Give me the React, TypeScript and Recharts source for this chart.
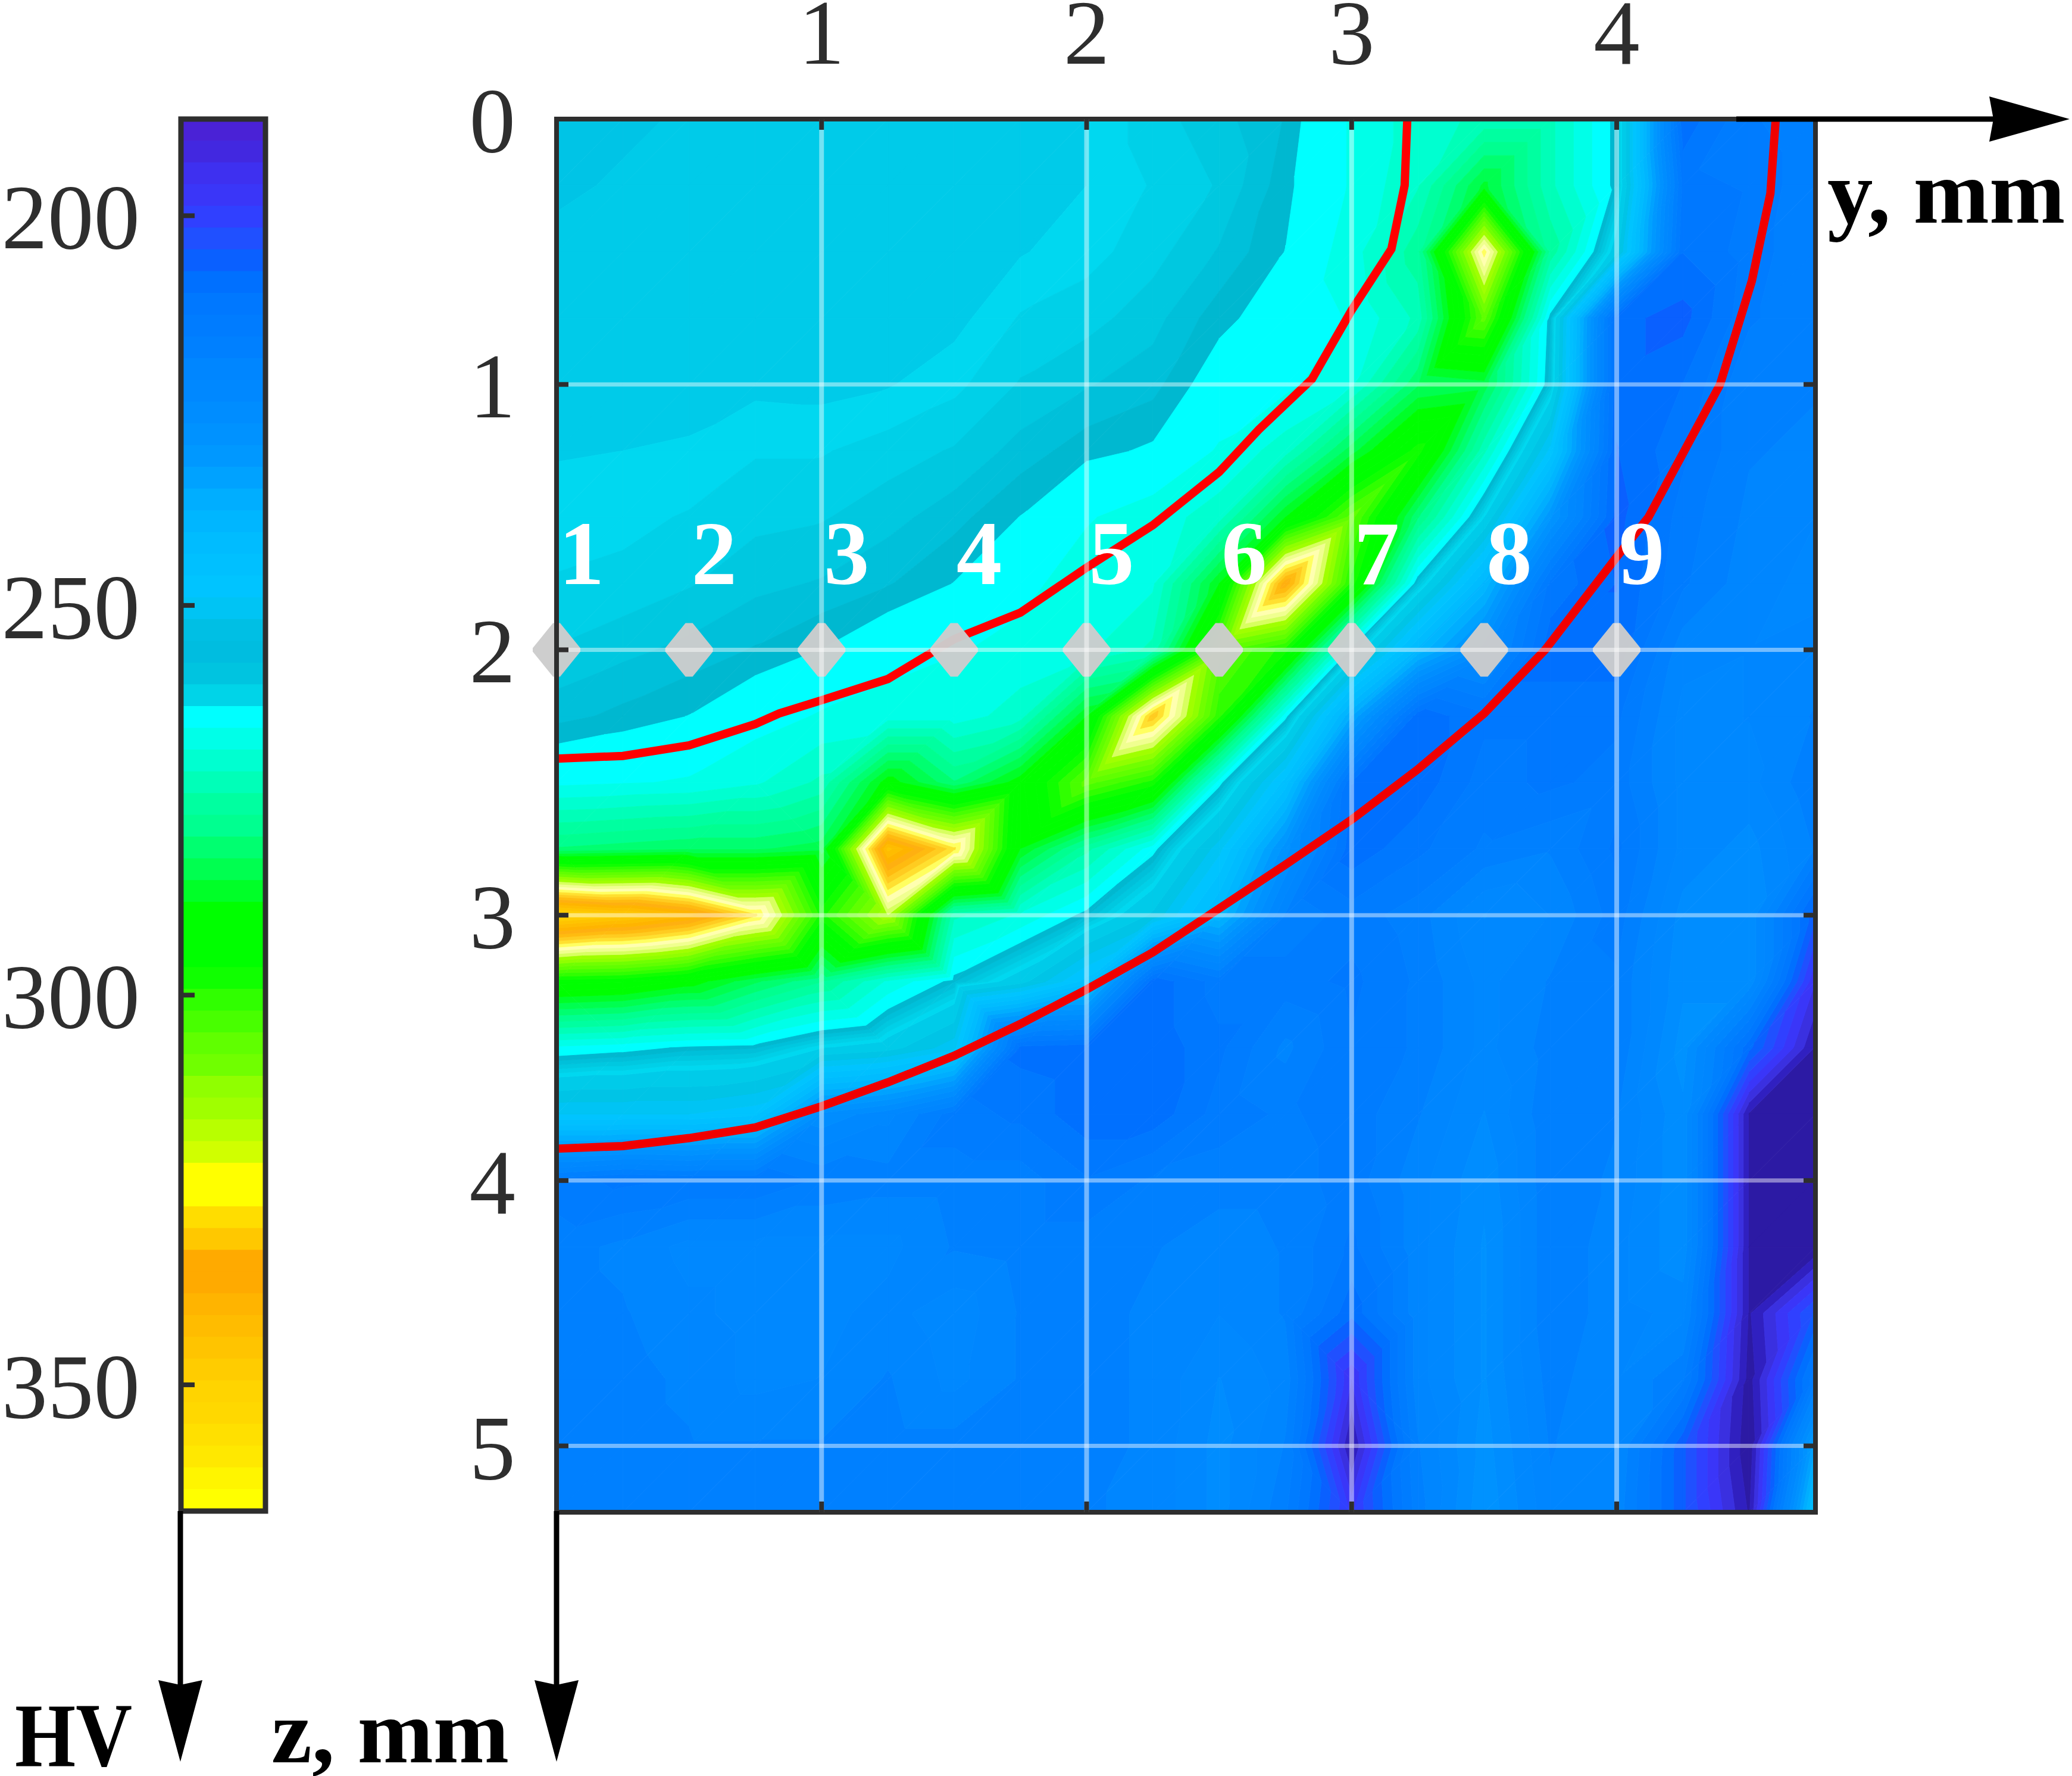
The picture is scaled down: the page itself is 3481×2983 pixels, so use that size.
import React from "react";
import { ScatterChart, Scatter, XAxis, YAxis, ReferenceLine, ReferenceArea } from "recharts";

// ---------- data ----------
const yNodes = [0, 0.25, 0.5, 0.75, 1, 1.25, 1.5, 1.75, 2, 2.25, 2.5, 2.75, 3, 3.25, 3.5, 3.75, 4, 4.25, 4.5, 4.75];
const zNodes = [0, 0.25, 0.5, 0.75, 1, 1.25, 1.5, 1.75, 2, 2.25, 2.5, 2.75, 3, 3.25, 3.5, 3.75, 4, 4.25, 4.5, 4.75, 5, 5.25];
const hvRows: number[][] = [
  [252, 254, 255, 255.5, 256, 256, 256.5, 257, 257.9, 259.5, 260.5, 262, 266, 270, 272, 272, 262, 208, 215, 218],
  [254, 255, 255.5, 256, 256, 256.5, 256.5, 257, 257.9, 259, 260, 262.5, 266, 271, 286, 272, 262, 212, 213, 218],
  [255.5, 256, 256, 256, 256, 256.5, 257, 257.8, 258.5, 259.5, 261, 263, 267, 276, 326, 276, 256, 210, 214, 218],
  [256, 256, 256.5, 256.5, 256.5, 257, 257.5, 259, 259.5, 260.5, 262.5, 264, 266, 272, 306, 262, 208, 206, 215, 218],
  [257, 257, 257.2, 257.6, 257.5, 257.8, 258.6, 260, 260.8, 261.5, 264, 265, 268, 282, 284, 261, 208, 210, 218, 218],
  [257.8, 257.9, 258.1, 258.8, 258.8, 259.4, 260, 261.3, 262.5, 263.2, 266, 270, 284, 298, 272, 248, 207, 212, 218, 219],
  [258.4, 258.6, 259, 259.6, 259.8, 260.5, 261.5, 263, 265.5, 267, 270, 288, 306, 280, 258, 230, 206, 214, 219, 221],
  [259, 259.2, 259.8, 260.6, 261, 261.8, 263, 265, 267, 268, 288, 338, 298, 261, 240, 212, 207, 215, 220, 222],
  [260, 260.6, 261.2, 262, 263, 264.5, 265.5, 266.5, 268, 272, 306, 298, 262, 240, 225, 208, 208, 220, 221, 220],
  [261.5, 262.2, 263, 264.5, 266, 267, 267, 270, 288, 332, 300, 264, 235, 208, 212, 212, 212, 222, 221, 218],
  [265, 265.5, 266, 268, 272, 290, 280, 290, 306, 298, 264, 245, 210, 208, 214, 212, 214, 222, 222, 216],
  [280, 281, 282, 282, 284, 345, 328, 288, 275, 264, 250, 228, 208, 212, 216, 218, 212, 222, 225, 218],
  [352, 348, 342, 328, 298, 316, 272, 268, 262, 254, 240, 218, 214, 217, 224, 221, 214, 225, 226, 205],
  [295, 294, 290, 283, 277, 268, 262, 256, 245, 208, 214, 214, 212, 216, 222, 218, 216, 226, 226, 196],
  [265, 264, 262.5, 262, 258, 256, 250, 209, 208, 208, 212, 219, 213, 216, 222, 217, 216, 228, 208, 190],
  [249, 249, 249, 247, 226, 222, 214, 212, 208, 208, 214, 216, 214, 218, 224, 216, 218, 226, 190, 189],
  [214, 212, 213, 213, 216, 217, 217, 217, 213, 216, 217, 217, 214, 220, 226, 216, 219, 226, 190, 188],
  [217, 219, 222, 222, 222, 222, 218, 217, 217, 218, 220, 218, 212, 220, 227, 216, 220, 226, 190, 188],
  [217, 218, 220.5, 222, 222, 220, 223, 218, 217, 219, 221, 218, 208, 220, 227, 216, 220, 222, 190, 205],
  [217, 217, 219, 222, 221, 218, 222, 218, 217, 219, 224, 220, 196, 220, 227, 217, 221, 216, 189, 215],
  [217, 217, 218, 218, 218, 217, 217, 217, 217, 219, 225, 218, 190, 218, 228, 218, 221, 205, 188, 235],
  [217, 217, 218, 218, 218, 218, 218, 218, 218, 219, 225, 216, 198, 217, 229, 219, 220, 205, 190, 246],
];
const innerCurveY = [0, 0.25, 0.5, 0.75, 0.84, 1, 1.25, 1.5, 1.75, 2, 2.25, 2.5, 2.65, 2.85, 3, 3.15, 3.2, 3.21];
const innerCurveZ = [2.41, 2.4, 2.36, 2.28, 2.24, 2.19, 2.11, 1.96, 1.86, 1.69, 1.53, 1.33, 1.17, 0.98, 0.72, 0.49, 0.25, 0];
const outerCurveY = [0, 0.25, 0.5, 0.75, 1, 1.25, 1.5, 1.75, 2, 2.25, 2.75, 3, 3.25, 3.5, 3.73, 4, 4.12, 4.25, 4.39, 4.51, 4.58, 4.6];
const outerCurveZ = [3.88, 3.87, 3.84, 3.8, 3.72, 3.63, 3.53, 3.41, 3.28, 3.14, 2.81, 2.64, 2.45, 2.24, 2, 1.65, 1.5, 1.26, 1, 0.61, 0.28, 0];
const probeY = [0, 0.5, 1, 1.5, 2, 2.5, 3, 3.5, 4];
const probeLabels = ["1", "2", "3", "4", "5", "6", "7", "8", "9"];
const PROBE_Z = 2;
const yTicks = [1, 2, 3, 4];
const zTicks = [0, 1, 2, 3, 4, 5];
const hvTicks = [200, 250, 300, 350];
const HV_MIN = 187.6;
const HV_MAX = 366.2;
const barColors = [
  "#4a22d6", "#4228e0", "#3e30f0", "#3a36f8", "#3040ff", "#2050ff", "#0a60ff", "#0070ff",
  "#0078ff", "#007cff", "#0080ff", "#0086ff", "#0088ff", "#008dff", "#0092ff", "#0098ff",
  "#00a2ff", "#00aeff", "#00b6ff", "#00bcff", "#00c0ff", "#00c4ff", "#00c4f4", "#00bfe4",
  "#00bde0", "#00c4e0", "#00d4e8", "#00ffff", "#00ffe8", "#00ffd0", "#00ffb8", "#00ffa0",
  "#00ff90", "#00ff70", "#00ff50", "#00ff28", "#00ff00", "#00ff00", "#00ff00", "#10ff00",
  "#30ff00", "#48ff00", "#60ff00", "#70ff00", "#90ff00", "#a0ff00", "#b8ff00", "#d0ff00",
  "#ffff00", "#ffff00", "#ffdd00", "#ffc800", "#ffaa00", "#ffaa00", "#ffb400", "#ffbc00",
  "#ffc400", "#ffcc00", "#ffd400", "#ffd800", "#ffe000", "#ffe800", "#fff500", "#ffff00",
];
// blocks of cells [first col, last col, first row, last row] round isolated peaks,
// whose diagonals alternate so that a peak gets a four-cornered diamond
const peakBlocks = [[13, 14, 1, 2], [0, 6, 10, 13], [11, 12, 18, 21]];

// ---------- styles / geometry ----------
const W = 3481, H = 2983;
const PLOT_L = 935, PLOT_T = 200, PLOT_W = 2115, PLOT_H = 2340;
const BAR_L = 304, BAR_W = 142, BAR_B = 2538;
const DARK = "#2e2e2e";
const SERIF = "'Liberation Serif', serif";
const STEP = (HV_MAX - HV_MIN) / barColors.length;

type Band = { lo: number; hi: number; color: string };
const tealBands: Band[] = [
  { lo: 251.8, hi: 254.6, color: "#00c4e6" },
  { lo: 254.6, hi: 257.9, color: "#00cbe9" },
  { lo: 257.9, hi: 258.9, color: "#00d8f0" },
  { lo: 258.9, hi: 259.9, color: "#00d0e8" },
  { lo: 259.9, hi: 260.9, color: "#00c8e0" },
  { lo: 260.9, hi: 261.9, color: "#00c0da" },
  { lo: 261.9, hi: 262.95, color: "#00b8d0" },
];
const mapOverrides: Record<number, string> = {
  0: "#2c1aa4", 1: "#3020c0", 2: "#3a30e0",
  46: "#d8ff60", 47: "#f0ff90", 48: "#ffffb0", 49: "#ffff60", 50: "#ffe030",
  51: "#ffcc20", 52: "#ffbb10", 53: "#ffb010",
};
const mapBands: Band[] = [];
barColors.forEach((c, k) => {
  const lo = HV_MIN + k * STEP, hi = lo + STEP;
  const color = mapOverrides[k] || c;
  if (hi <= 251.8 || lo >= 262.9) mapBands.push({ lo: k === 0 ? 0 : lo, hi: k === barColors.length - 1 ? 999 : hi, color });
  else if (lo < 251.8) mapBands.push({ lo, hi: 251.8, color });
});
mapBands.push(...tealBands);

type P = { x: number; y: number; v: number };
function clip(poly: P[], level: number, keepAbove: boolean): P[] {
  const out: P[] = [];
  for (let i = 0; i < poly.length; i++) {
    const a = poly[i], b = poly[(i + 1) % poly.length];
    const ia = keepAbove ? a.v >= level : a.v <= level;
    const ib = keepAbove ? b.v >= level : b.v <= level;
    if (ia) out.push(a);
    if (ia !== ib) {
      const t = (level - a.v) / (b.v - a.v);
      out.push({ x: a.x + t * (b.x - a.x), y: a.y + t * (b.y - a.y), v: level });
    }
  }
  return out;
}
function triangleBands(tri: P[], key: string) {
  const vs = tri.map((p) => p.v);
  const mn = Math.min(...vs), mx = Math.max(...vs);
  const res: React.ReactNode[] = [];
  mapBands.forEach((b, k) => {
    if (b.hi < mn || b.lo > mx) return;
    let poly = clip(tri, b.lo, true);
    if (poly.length) poly = clip(poly, b.hi, false);
    if (poly.length < 3) return;
    res.push(
      <polygon key={key + k} points={poly.map((p) => `${p.x.toFixed(1)},${p.y.toFixed(1)}`).join(" ")} fill={b.color} stroke={b.color} strokeWidth={0.9} />
    );
  });
  return res;
}

const gridData = zNodes.flatMap((z, j) => yNodes.map((y, i) => ({ y, z, hv: hvRows[j][i], i, j })));
const innerCurve = innerCurveY.map((y, i) => ({ y, z: innerCurveZ[i] }));
const outerCurve = outerCurveY.map((y, i) => ({ y, z: outerCurveZ[i] }));
const probes = probeY.map((y, i) => ({ y, z: PROBE_Z, label: probeLabels[i] }));
const barData = barColors.map((color, k) => ({ pos: 0.5, hv: HV_MIN + (k + 0.5) * STEP, color }));

const CW = (PLOT_W / 4.75) * 0.25;
const CH = (PLOT_H / 5.25) * 0.25;

function CellShape(props: any) {
  const { cx, cy, payload } = props;
  const { i, j } = payload;
  if (i >= yNodes.length - 1 || j >= zNodes.length - 1) return <g />;
  const a: P = { x: cx, y: cy, v: hvRows[j][i] };
  const b: P = { x: cx + CW, y: cy, v: hvRows[j][i + 1] };
  const c: P = { x: cx + CW, y: cy + CH, v: hvRows[j + 1][i + 1] };
  const d: P = { x: cx, y: cy + CH, v: hvRows[j + 1][i] };
  const inBlock = peakBlocks.some(([c0, c1, r0, r1]) => i >= c0 && i <= c1 && j >= r0 && j <= r1);
  const mainDiagonal = inBlock && (i + j) % 2 === 1;
  const tris = mainDiagonal ? [[a, b, c], [a, c, d]] : [[a, b, d], [b, c, d]];
  return <g>{tris.map((t, n) => triangleBands(t, `${i}-${j}-${n}-`))}</g>;
}
const noDot = () => <g />;
function Diamond(props: any) {
  const { cx, cy } = props;
  const rx = 40, ry = 45, r = 6, s = 3;
  return (
    <path
      d={`M${cx - r},${cy - ry} L${cx + r},${cy - ry} L${cx + rx},${cy - s} L${cx + rx},${cy + s} L${cx + r},${cy + ry} L${cx - r},${cy + ry} L${cx - rx},${cy + s} L${cx - rx},${cy - s} Z`}
      fill="#cccccc"
      fillOpacity={0.97}
    />
  );
}
function ProbeLabel(props: any) {
  const { cx, cy, payload } = props;
  return (
    <text x={cx + 42} y={cy - 110} textAnchor="middle" fontFamily={SERIF} fontWeight="bold" fontSize={153} fill="#ffffff">
      {payload.label}
    </text>
  );
}
function TopTick(props: any) {
  const { x, payload } = props;
  return (
    <g>
      <line x1={x} x2={x} y1={PLOT_T} y2={PLOT_T + 18} stroke={DARK} strokeWidth={8} />
      <line x1={x} x2={x} y1={PLOT_T + PLOT_H - 18} y2={PLOT_T + PLOT_H} stroke={DARK} strokeWidth={8} />
      <text x={x} y={107} textAnchor="middle" fontFamily={SERIF} fontSize={155} fill={DARK}>{payload.value}</text>
    </g>
  );
}
function LeftTick(props: any) {
  const { y, payload } = props;
  return (
    <g>
      {payload.value > 0 && <line x1={PLOT_L} x2={PLOT_L + 20} y1={y} y2={y} stroke={DARK} strokeWidth={8} />}
      {payload.value > 0 && <line x1={PLOT_L + PLOT_W - 20} x2={PLOT_L + PLOT_W} y1={y} y2={y} stroke={DARK} strokeWidth={8} />}
      <text x={866} y={y + 55} textAnchor="end" fontFamily={SERIF} fontSize={155} fill={DARK}>{payload.value}</text>
    </g>
  );
}
function BarBand(props: any) {
  const { cx, cy, payload } = props;
  const h = (BAR_B - PLOT_T) / barColors.length + 0.8;
  return <rect x={cx - BAR_W / 2} y={cy - h / 2} width={BAR_W} height={h} fill={payload.color} />;
}
function BarTick(props: any) {
  const { y, payload } = props;
  return (
    <g>
      <line x1={BAR_L} x2={BAR_L + 23} y1={y} y2={y} stroke={DARK} strokeWidth={8} />
      <text x={235} y={y + 55} textAnchor="end" fontFamily={SERIF} fontSize={155} fill={DARK}>{payload.value}</text>
    </g>
  );
}
const layer: React.CSSProperties = { position: "absolute", left: 0, top: 0 };
const mapMargin = { top: 0, left: 0, right: W - PLOT_L - PLOT_W, bottom: H - PLOT_T - PLOT_H };
const barMargin = { top: PLOT_T, left: 0, right: 10, bottom: H - BAR_B };

export default function App() {
  return (
    <div style={{ position: "absolute", left: 0, top: 0, width: W, height: H, background: "#fff", overflow: "hidden" }}>
      {/* map: filled bands, curves and probes */}
      <div style={layer}>
        <ScatterChart width={W} height={H} margin={mapMargin}>
          <XAxis type="number" dataKey="y" orientation="top" height={PLOT_T} domain={[0, 4.75]} ticks={yTicks} axisLine={false} tickLine={false} tick={false} />
          <YAxis type="number" dataKey="z" reversed width={PLOT_L} domain={[0, 5.25]} ticks={zTicks} axisLine={false} tickLine={false} tick={false} />
          <Scatter data={gridData} shape={CellShape} isAnimationActive={false} />
          <Scatter data={innerCurve} line={{ stroke: "#ff0000", strokeWidth: 14 }} lineType="joint" shape={noDot} isAnimationActive={false} />
          <Scatter data={outerCurve} line={{ stroke: "#f00000", strokeWidth: 14 }} lineType="joint" shape={noDot} isAnimationActive={false} />
          <Scatter data={probes} shape={Diamond} isAnimationActive={false} />
        </ScatterChart>
      </div>
      {/* same axes again, on top: grid, frame, ticks and the probe numbers */}
      <div style={layer}>
        <ScatterChart width={W} height={H} margin={mapMargin}>
          <XAxis type="number" dataKey="y" orientation="top" height={PLOT_T} domain={[0, 4.75]} ticks={yTicks} axisLine={false} tickLine={false} tick={TopTick} interval={0} />
          <YAxis type="number" dataKey="z" reversed width={PLOT_L} domain={[0, 5.25]} ticks={zTicks} axisLine={false} tickLine={false} tick={LeftTick} interval={0} />
          {yTicks.map((v) => (
            <ReferenceLine key={"gx" + v} x={v} stroke="#ffffff" strokeOpacity={0.45} strokeWidth={8} />
          ))}
          {zTicks.filter((v) => v > 0).map((v) => (
            <ReferenceLine key={"gz" + v} y={v} stroke="#ffffff" strokeOpacity={0.45} strokeWidth={7} />
          ))}
          <ReferenceArea x1={0} x2={4.75} y1={0} y2={5.25} fill="none" stroke={DARK} strokeWidth={8} ifOverflow="visible" />
          <Scatter data={probes} shape={ProbeLabel} isAnimationActive={false} />
        </ScatterChart>
      </div>
      {/* colourbar */}
      <div style={layer}>
        <ScatterChart width={BAR_L + BAR_W + 10} height={H} margin={barMargin}>
          <XAxis type="number" dataKey="pos" domain={[0, 1]} hide />
          <YAxis type="number" dataKey="hv" reversed width={BAR_L} domain={[HV_MIN, HV_MAX]} ticks={hvTicks} axisLine={false} tickLine={false} tick={false} />
          <Scatter data={barData} shape={BarBand} isAnimationActive={false} />
        </ScatterChart>
      </div>
      <div style={layer}>
        <ScatterChart width={BAR_L + BAR_W + 10} height={H} margin={barMargin}>
          <XAxis type="number" dataKey="pos" domain={[0, 1]} hide />
          <YAxis type="number" dataKey="hv" reversed width={BAR_L} domain={[HV_MIN, HV_MAX]} ticks={hvTicks} axisLine={false} tickLine={false} tick={BarTick} interval={0} />
          <Scatter data={barData} shape={noDot} isAnimationActive={false} />
          <ReferenceArea x1={0} x2={1} y1={HV_MIN} y2={HV_MAX} fill="none" stroke={DARK} strokeWidth={9} ifOverflow="visible" />
        </ScatterChart>
      </div>
      <svg width={W} height={H} style={{ position: "absolute", left: 0, top: 0, pointerEvents: "none" }}>
        <line x1={2917} x2={3360} y1={200} y2={200} stroke="#000" strokeWidth={9} />
        <path d="M3477,200 L3342,162 L3349,200 L3342,238 Z" fill="#000" />
        <line x1={303} x2={303} y1={2538} y2={2835} stroke="#000" strokeWidth={9} />
        <path d="M303,2959 L266,2822 L303,2830 L340,2822 Z" fill="#000" />
        <line x1={935} x2={935} y1={2538} y2={2835} stroke="#000" strokeWidth={9} />
        <path d="M935,2959 L898,2822 L935,2830 L972,2822 Z" fill="#000" />
        <text x={3070} y={374} fontFamily={SERIF} fontWeight="bold" fontSize={153} fill="#000">y, mm</text>
        <text x={456} y={2960} fontFamily={SERIF} fontWeight="bold" fontSize={153} fill="#000">z, mm</text>
        <text x={25} y={2966} fontFamily={SERIF} fontWeight="bold" fontSize={153} fill="#000" textLength={197} lengthAdjust="spacingAndGlyphs">HV</text>
      </svg>
    </div>
  );
}
